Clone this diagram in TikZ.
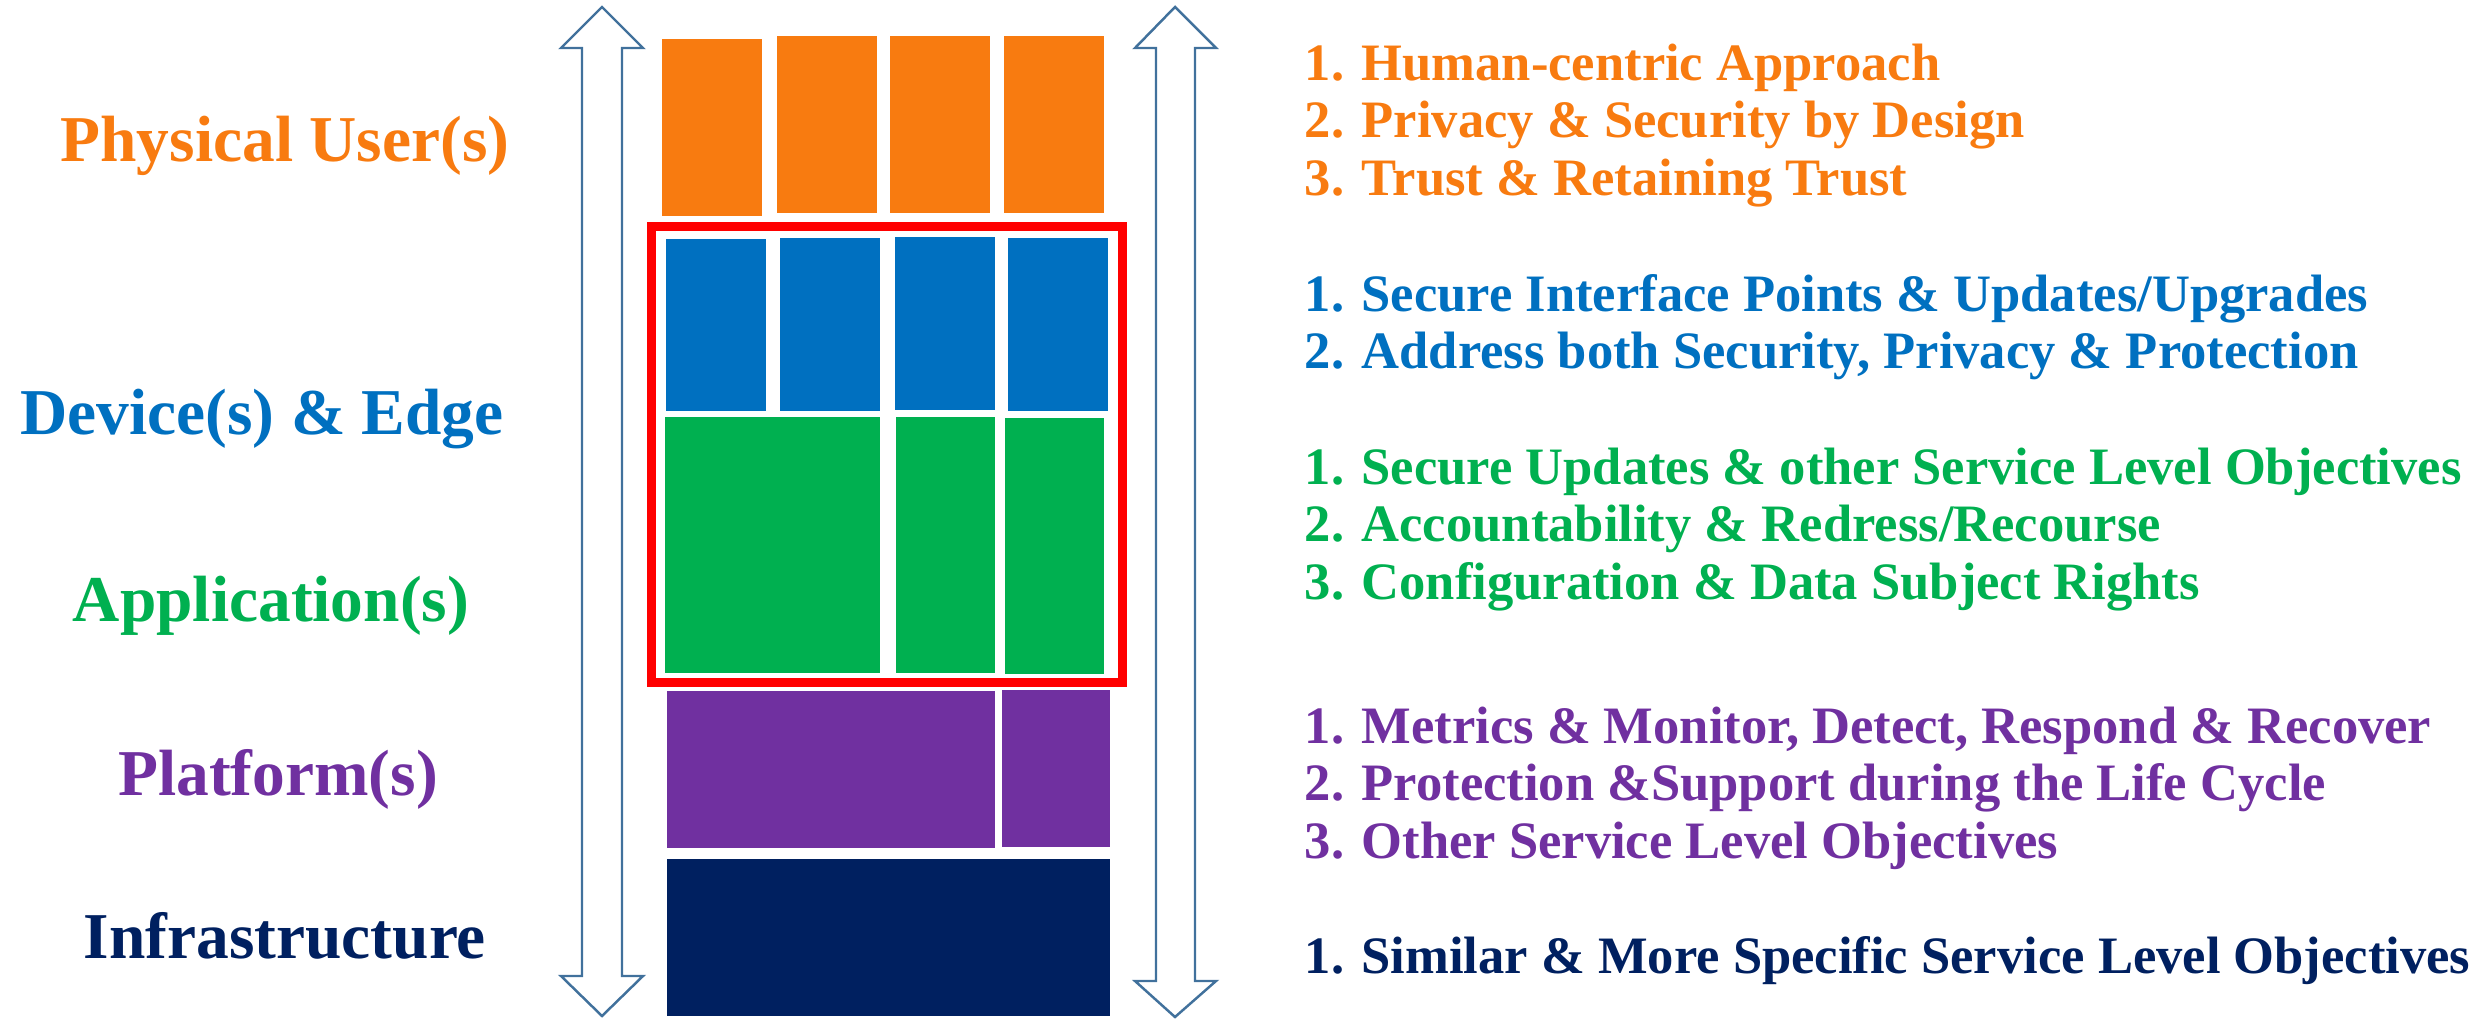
\documentclass[tikz,border=0pt]{standalone}
\usepackage{fontspec}
\setmainfont{Liberation Serif}[BoldFont={Liberation Serif Bold}]

\definecolor{usrorange}{RGB}{248,123,16}
\definecolor{devblue}{RGB}{0,112,192}
\definecolor{appgreen}{RGB}{0,176,80}
\definecolor{platpurple}{RGB}{112,48,160}
\definecolor{infranavy}{RGB}{0,32,96}
\definecolor{arrowblue}{RGB}{65,113,156}

\begin{document}
\begin{tikzpicture}[x=0.01cm,y=-0.01cm,
  layer/.style={font=\fontsize{18.6}{20}\selectfont\bfseries,anchor=base,inner sep=0pt},
  goal/.style={font=\fontsize{14.95}{16}\selectfont\bfseries,anchor=base west,inner sep=0pt}]

  \useasboundingbox (0,0) rectangle (2488,1018);

  % up/down block arrows at both sides of the stack
  \draw[arrowblue,line width=0.7pt,line join=miter]
    (602,7) -- (643,48) -- (622,48) -- (622,976) -- (643,976) -- (602,1016)
    -- (561,976) -- (582,976) -- (582,48) -- (561,48) -- cycle;
  \draw[arrowblue,line width=0.7pt,line join=miter]
    (1175,7) -- (1216,48) -- (1195,48) -- (1195,981) -- (1216,981) -- (1175,1017)
    -- (1135,981) -- (1156,981) -- (1156,48) -- (1135,48) -- cycle;

  % physical users
  \fill[usrorange] (662,39) rectangle (762,216);
  \foreach \xx in {777,890,1004}
  {
       \fill[usrorange] (\xx,36) rectangle ({\xx+100},213);
  }

  % devices and edge
  \fill[devblue] (666,239) rectangle (766,411);
  \fill[devblue] (780,238) rectangle (880,411);
  \fill[devblue] (895,237) rectangle (995,410);
  \fill[devblue] (1008,238) rectangle (1108,411);

  % applications
  \fill[appgreen] (665,417) rectangle (880,673);
  \fill[appgreen] (896,417) rectangle (995,673);
  \fill[appgreen] (1005,418) rectangle (1104,674);

  % red frame round devices and applications
  \draw[red,line width=2.6pt] (651.5,226.5) rectangle (1122.5,682.5);

  % platforms
  \fill[platpurple] (667,691) rectangle (995,848);
  \fill[platpurple] (1002,690) rectangle (1110,847);

  % infrastructure
  \fill[infranavy] (667,859) rectangle (1110,1016);

  % layer names
  \node[layer,text=usrorange] (usr) at (285,161) {Physical User(s)};
  \node[layer,text=devblue] (dev) at (262,434) {Device(s) \& Edge};
  \node[layer,text=appgreen] (app) at (271,621) {Application(s)};
  \node[layer,text=platpurple] (plat) at (278,795) {Platform(s)};
  \node[layer,text=infranavy] (infra) at (285,958) {Infrastructure};

  % objectives per layer
  \foreach \txt [count=\ii] in {1. Human-centric Approach,
      2. Privacy \& Security by Design, 3. Trust \& Retaining Trust}
  {
       \node[goal,text=usrorange] (usrgoal\ii) at (1304,{80+(\ii-1)*57.5}) {\txt};
  }
  \foreach \txt [count=\ii] in {1. Secure Interface Points \& Updates/Upgrades,
      {2. Address both Security, Privacy \& Protection}}
  {
       \node[goal,text=devblue] (devgoal\ii) at (1304,{311+(\ii-1)*57.5}) {\txt};
  }
  \foreach \txt [count=\ii] in {1. Secure Updates \& other Service Level Objectives,
      2. Accountability \& Redress/Recourse, 3. Configuration \& Data Subject Rights}
  {
       \node[goal,text=appgreen] (appgoal\ii) at (1304,{484+(\ii-1)*57.5}) {\txt};
  }
  \foreach \txt [count=\ii] in {{1. Metrics \& Monitor, Detect, Respond \& Recover},
      2. Protection \&Support during the Life Cycle, 3. Other Service Level Objectives}
  {
       \node[goal,text=platpurple] (platgoal\ii) at (1304,{743+(\ii-1)*57.5}) {\txt};
  }
  \node[goal,text=infranavy] (infragoal1) at (1304,973)
    {1. Similar \& More Specific Service Level Objectives};

\end{tikzpicture}
\end{document}
